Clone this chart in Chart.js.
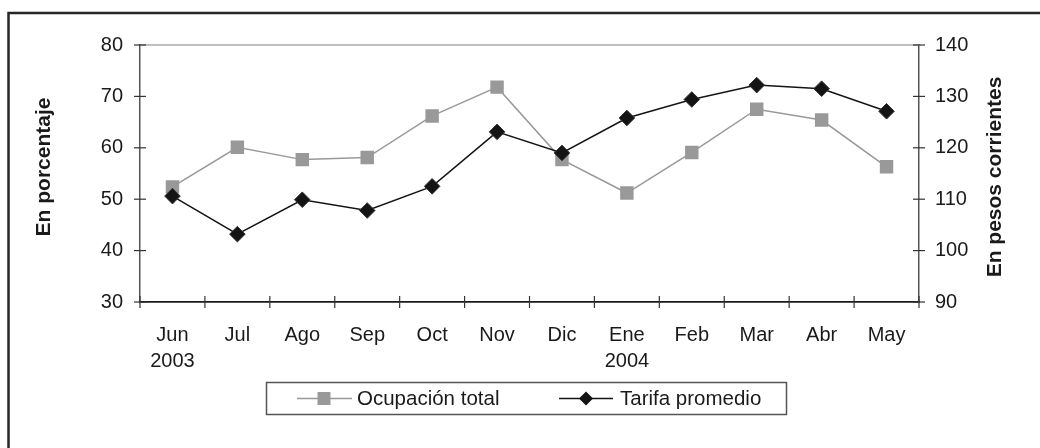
<!DOCTYPE html>
<html><head><meta charset="utf-8">
<script src="https://cdn.jsdelivr.net/npm/chart.js@4.4.1/dist/chart.umd.min.js"></script>
<style>html,body{margin:0;padding:0;background:#fff}#wrap{width:1040px;height:448px;position:relative}</style>
</head><body><div id="wrap"><canvas id="c" width="1040" height="448"></canvas></div>
<script>
const categories = [['Jun','2003'],'Jul','Ago','Sep','Oct','Nov','Dic',['Ene','2004'],'Feb','Mar','Abr','May'];
const ocupacionTotal = [52.4,60.1,57.7,58.1,66.2,71.8,57.7,51.2,59.1,67.5,65.4,56.3];
const tarifaPromedio = [110.6,103.2,109.9,107.8,112.5,123.1,119.0,125.8,129.4,132.2,131.5,127.1];
const leftTicks = [30,40,50,60,70,80];
const rightTicks = [90,100,110,120,130,140];
const seriesNames = ['Ocupación total','Tarifa promedio'];
const axisTitles = ['En porcentaje','En pesos corrientes'];

const FONT = '"Liberation Sans", Arial, sans-serif';
const GREY = '#999999';
const BLACK = '#141414';

const decor = {
  id: 'decor',
  beforeDatasetsDraw(chart) {
    const {ctx, chartArea: a, scales} = chart;
    ctx.save();
    ctx.strokeStyle = '#a8a8a8'; ctx.lineWidth = 1.5;
    const yt = scales.y.getPixelForValue(leftTicks[leftTicks.length - 1]);
    ctx.beginPath(); ctx.moveTo(a.left, yt); ctx.lineTo(a.right, yt); ctx.stroke();
    ctx.restore();
  },
  afterDraw(chart) {
    const {ctx, chartArea: a, scales} = chart;
    ctx.save();
    // outer frame
    ctx.strokeStyle = '#262626'; ctx.lineWidth = 2.5;
    ctx.beginPath(); ctx.moveTo(8.5, 448); ctx.lineTo(8.5, 13); ctx.lineTo(1040, 13); ctx.stroke();
    // cross ticks
    ctx.lineWidth = 1.2;
    ctx.strokeStyle = '#333';
    leftTicks.forEach(v => {
      const y = scales.y.getPixelForValue(v);
      ctx.beginPath(); ctx.moveTo(a.left - 6, y); ctx.lineTo(a.left + 6, y); ctx.stroke();
    });
    rightTicks.forEach(v => {
      const y = scales.y1.getPixelForValue(v);
      ctx.beginPath(); ctx.moveTo(a.right - 6, y); ctx.lineTo(a.right + 6, y); ctx.stroke();
    });
    for (let i = 0; i <= categories.length; i++) {
      const x = scales.x.getPixelForValue(i - 0.5);
      ctx.beginPath(); ctx.moveTo(x, a.bottom - 6); ctx.lineTo(x, a.bottom + 6); ctx.stroke();
    }
    // axis titles
    ctx.fillStyle = '#1a1a1a';
    ctx.font = 'bold 21px ' + FONT;
    ctx.textAlign = 'center'; ctx.textBaseline = 'middle';
    ctx.save(); ctx.translate(44, 167); ctx.rotate(-Math.PI / 2); ctx.fillText(axisTitles[0], 0, 0); ctx.restore();
    ctx.save(); ctx.translate(995, 177); ctx.rotate(-Math.PI / 2); ctx.fillText(axisTitles[1], 0, 0); ctx.restore();
    // legend
    const ly = 398.5;
    ctx.strokeStyle = '#555'; ctx.lineWidth = 1.5;
    ctx.strokeRect(266.5, 382.5, 520, 32);
    ctx.font = '20.5px ' + FONT; ctx.textAlign = 'left'; ctx.fillStyle = '#1a1a1a';
    // item 1
    ctx.strokeStyle = GREY; ctx.lineWidth = 1.5;
    ctx.beginPath(); ctx.moveTo(297, ly); ctx.lineTo(352, ly); ctx.stroke();
    ctx.fillStyle = GREY; ctx.fillRect(317.5, ly - 6.5, 13, 13);
    ctx.fillStyle = '#1a1a1a'; ctx.fillText(seriesNames[0], 357, ly + 1);
    // item 2
    ctx.strokeStyle = BLACK;
    ctx.beginPath(); ctx.moveTo(559, ly); ctx.lineTo(613, ly); ctx.stroke();
    ctx.fillStyle = BLACK;
    ctx.beginPath(); ctx.moveTo(586, ly - 7); ctx.lineTo(593, ly); ctx.lineTo(586, ly + 7); ctx.lineTo(579, ly); ctx.closePath(); ctx.fill();
    ctx.fillStyle = '#1a1a1a'; ctx.fillText(seriesNames[1], 620, ly + 1);
    ctx.restore();
  }
};

new Chart(document.getElementById('c'), {
  type: 'line',
  data: {
    labels: categories,
    datasets: [
      {
        label: seriesNames[0], data: ocupacionTotal, yAxisID: 'y', order: 1,
        borderColor: GREY, backgroundColor: GREY, borderWidth: 1.5,
        pointStyle: 'rect', pointRadius: 9.5, pointHoverRadius: 9.5,
        pointBackgroundColor: GREY, pointBorderColor: GREY, pointBorderWidth: 0, tension: 0
      },
      {
        label: seriesNames[1], data: tarifaPromedio, yAxisID: 'y1', order: 0,
        borderColor: BLACK, backgroundColor: BLACK, borderWidth: 1.5,
        pointStyle: 'rectRot', pointRadius: 7.8, pointHoverRadius: 7.8,
        pointBackgroundColor: BLACK, pointBorderColor: '#333', pointBorderWidth: 1, tension: 0
      }
    ]
  },
  options: {
    responsive: false, animation: false, devicePixelRatio: 1,
    layout: { padding: { top: 45, left: 0, right: 0, bottom: 0 } },
    plugins: { legend: { display: false }, tooltip: { enabled: false }, title: { display: false } },
    scales: {
      x: {
        type: 'category', offset: true,
        grid: { display: false, offset: true },
        border: { display: true, color: '#1a1a1a', width: 1.8 },
        ticks: { color: '#1a1a1a', font: { family: FONT, size: 20, lineHeight: 1.33 }, padding: 12, maxRotation: 0, autoSkip: false },
        afterFit: s => { s.height = 146; }
      },
      y: {
        position: 'left', min: leftTicks[0], max: leftTicks[leftTicks.length - 1],
        grid: { display: false },
        border: { display: true, color: '#555', width: 1.5 },
        ticks: { stepSize: 10, color: '#1a1a1a', font: { family: FONT, size: 20 }, padding: 9 },
        afterFit: s => { s.width = 140; }
      },
      y1: {
        position: 'right', min: rightTicks[0], max: rightTicks[rightTicks.length - 1],
        grid: { display: false },
        border: { display: true, color: '#555', width: 1.5 },
        ticks: { stepSize: 10, color: '#1a1a1a', font: { family: FONT, size: 20 }, padding: 8 },
        afterFit: s => { s.width = 121; }
      }
    }
  },
  plugins: [decor]
});
</script>
</body></html>
